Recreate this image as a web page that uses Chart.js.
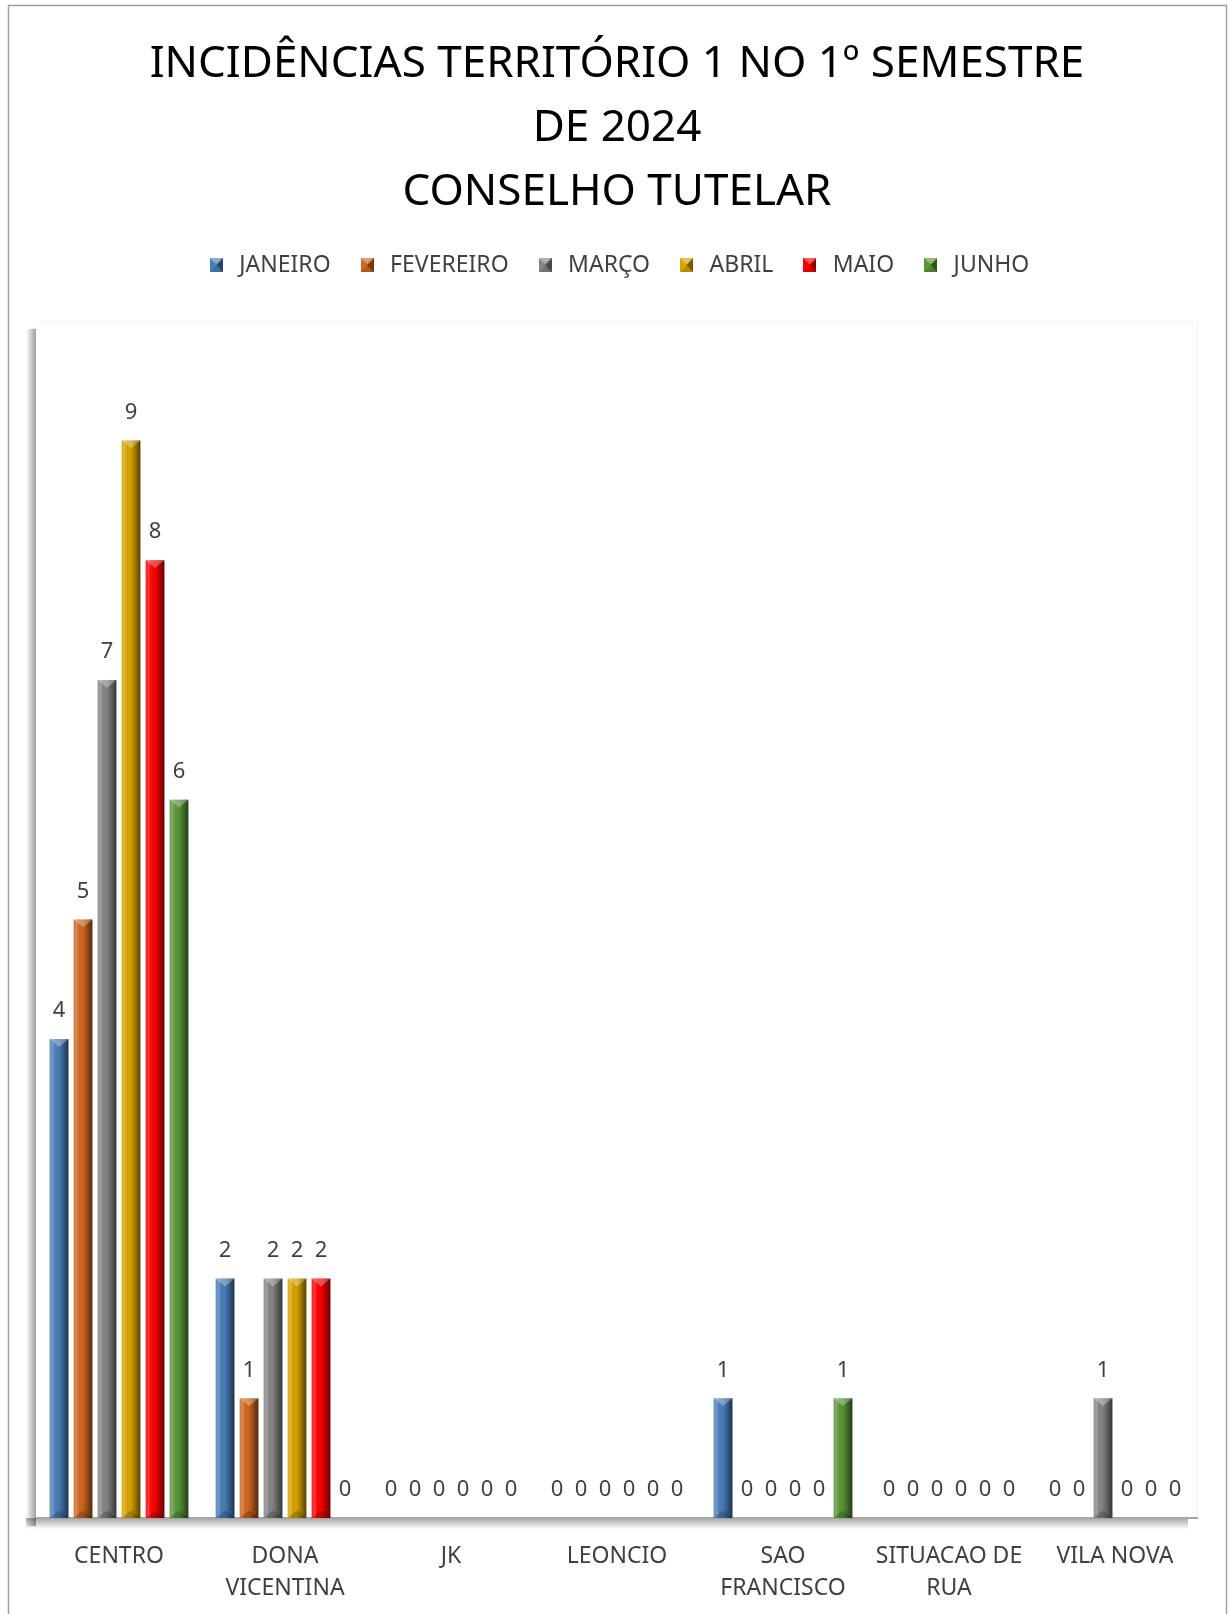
<!DOCTYPE html>
<html>
<head>
<meta charset="utf-8">
<script src="https://cdn.jsdelivr.net/npm/chart.js@4.4.1/dist/chart.umd.min.js"></script>
<style>
  html, body { margin: 0; padding: 0; background: #fff; }
  canvas { display: block; }
</style>
</head>
<body>
<canvas id="c" width="1229" height="1614"></canvas>
<script>
// territorios (rotulos em linhas)
const categories = [['CENTRO'], ['DONA', 'VICENTINA'], ['JK'], ['LEONCIO'], ['SAO', 'FRANCISCO'], ['SITUACAO DE', 'RUA'], ['VILA NOVA']]
const months = ['JANEIRO', 'FEVEREIRO', 'MARÇO', 'ABRIL', 'MAIO', 'JUNHO']

const janeiro = [4, 2, 0, 0, 1, 0, 0]
const fevereiro = [5, 1, 0, 0, 0, 0, 0]
const marco = [7, 2, 0, 0, 0, 0, 1]
const abril = [9, 2, 0, 0, 0, 0, 0]
const maio = [8, 2, 0, 0, 0, 0, 0]
const junho = [6, 0, 0, 0, 1, 0, 0]

const series = [janeiro, fevereiro, marco, abril, maio, junho]
const colors = ['#4a7ebb', '#d0671f', '#858585', '#d9a300', '#ff0000', '#5a9636']

const FONT = "'Noto Sans', 'Open Sans', sans-serif"

// pequeno quadrado chanfrado para a legenda
const swatch = (color) => {
    const cv = document.createElement('canvas')
    cv.width = 13; cv.height = 14
    const g = cv.getContext('2d')
    g.fillStyle = color
    g.fillRect(0, 0, 13, 14)
    g.fillStyle = 'rgba(255,255,255,0.35)'
    g.beginPath(); g.moveTo(0, 0); g.lineTo(13, 0); g.lineTo(6.5, 6); g.closePath(); g.fill()
    g.fillStyle = 'rgba(0,0,0,0.45)'
    g.beginPath(); g.moveTo(13, 0); g.lineTo(13, 14); g.lineTo(6.5, 7); g.closePath(); g.fill()
    g.fillStyle = 'rgba(0,0,0,0.15)'
    g.beginPath(); g.moveTo(0, 14); g.lineTo(13, 14); g.lineTo(6.5, 8); g.closePath(); g.fill()
    return cv
}
const swatches = colors.map(swatch)

// espaco extra entre legenda e area do grafico
const legendGap = {
    id: 'legendGap',
    afterInit(chart) {
        const fit = chart.legend.fit
        chart.legend.fit = function () {
            fit.bind(chart.legend)()
            this.height += 34
        }
    }
}

const frame = {
    id: 'frame',
    beforeDraw(chart) {
        const ctx = chart.ctx
        const a = chart.chartArea
        ctx.save()
        // moldura externa
        ctx.strokeStyle = '#a0a0a0'
        ctx.lineWidth = 1.5
        ctx.strokeRect(8.5, 5.5, 1218, 1700)
        // sombra esquerda
        let g = ctx.createLinearGradient(a.left - 10, 0, a.left, 0)
        g.addColorStop(0, 'rgba(0,0,0,0)')
        g.addColorStop(1, 'rgba(0,0,0,0.38)')
        ctx.fillStyle = g
        ctx.fillRect(a.left - 10, a.top + 8, 10, a.bottom - a.top)
        // sombra inferior
        g = ctx.createLinearGradient(0, a.bottom, 0, a.bottom + 11)
        g.addColorStop(0, 'rgba(0,0,0,0.35)')
        g.addColorStop(1, 'rgba(0,0,0,0)')
        ctx.fillStyle = g
        ctx.fillRect(a.left - 10, a.bottom, a.right - a.left, 11)
        // borda leve do plot
        ctx.strokeStyle = '#f2f2f2'
        ctx.lineWidth = 1
        ctx.beginPath()
        ctx.moveTo(a.left, a.top + 0.5); ctx.lineTo(a.right - 0.5, a.top + 0.5); ctx.lineTo(a.right - 0.5, a.bottom)
        ctx.stroke()
        // eixo
        ctx.strokeStyle = '#a6a6a6'
        ctx.lineWidth = 2
        ctx.beginPath()
        ctx.moveTo(a.left, a.bottom); ctx.lineTo(a.right, a.bottom)
        ctx.stroke()
        ctx.restore()
    }
}

const bevel = {
    id: 'bevel',
    afterDatasetsDraw(chart) {
        const ctx = chart.ctx
        ctx.save()
        chart.data.datasets.forEach((ds, i) => {
            const meta = chart.getDatasetMeta(i)
            meta.data.forEach((bar, j) => {
                const w = bar.width, x0 = bar.x - w / 2, x1 = bar.x + w / 2
                const top = bar.y, bot = bar.base
                if (bot - top > 1) {
                    const g = ctx.createLinearGradient(x0, 0, x1, 0)
                    g.addColorStop(0, 'rgba(255,255,255,0.10)')
                    g.addColorStop(0.15, 'rgba(255,255,255,0.22)')
                    g.addColorStop(0.45, 'rgba(0,0,0,0)')
                    g.addColorStop(0.7, 'rgba(0,0,0,0.25)')
                    g.addColorStop(1, 'rgba(0,0,0,0.6)')
                    ctx.fillStyle = g
                    ctx.fillRect(x0, top, w, bot - top)
                    ctx.fillStyle = 'rgba(255,255,255,0.3)'
                    ctx.beginPath(); ctx.moveTo(x0, top); ctx.lineTo(x1, top); ctx.lineTo(bar.x, top + w / 2.4); ctx.closePath(); ctx.fill()
                    ctx.fillStyle = 'rgba(0,0,0,0.2)'
                    ctx.beginPath(); ctx.moveTo(x0, bot); ctx.lineTo(x1, bot); ctx.lineTo(bar.x, bot - w / 2.4); ctx.closePath(); ctx.fill()
                }
                // rotulo do valor
                ctx.fillStyle = '#404040'
                ctx.font = '22px ' + FONT
                ctx.textAlign = 'center'
                ctx.textBaseline = 'middle'
                ctx.fillText(String(ds.data[j]), bar.x, top - 28)
            })
        })
        ctx.restore()
    }
}

new Chart(document.getElementById('c').getContext('2d'), {
    type: 'bar',
    data: {
        labels: categories,
        datasets: months.map((m, i) => ({
            label: m,
            data: series[i],
            backgroundColor: colors[i],
            barPercentage: 0.78,
            categoryPercentage: 0.867
        }))
    },
    options: {
        responsive: false,
        animation: false,
        devicePixelRatio: 1,
        layout: { padding: { left: 36, right: 31, top: 0, bottom: 10 } },
        plugins: {
            title: {
                display: true,
                text: ['INCIDÊNCIAS TERRITÓRIO 1 NO 1º SEMESTRE', 'DE 2024', 'CONSELHO TUTELAR'],
                color: '#000',
                font: { family: FONT, size: 44, weight: 'normal', lineHeight: 1.46 },
                padding: { top: 32, bottom: 4 }
            },
            legend: {
                position: 'top',
                labels: {
                    usePointStyle: true,
                    pointStyle: 'rect',
                    color: '#404040',
                    font: { family: FONT, size: 23 },
                    padding: 25,
                    generateLabels: (chart) => months.map((m, i) => ({
                        text: m,
                        pointStyle: swatches[i],
                        fillStyle: colors[i],
                        strokeStyle: colors[i],
                        lineWidth: 0,
                        fontColor: '#404040',
                        datasetIndex: i
                    }))
                }
            },
            tooltip: { enabled: false }
        },
        scales: {
            x: {
                grid: { display: false, drawTicks: false },
                border: { display: false },
                ticks: {
                    color: '#404040',
                    font: { family: FONT, size: 23, lineHeight: 1.39 },
                    padding: 22,
                    maxRotation: 0,
                    autoSkip: false
                },
                afterFit: (scale) => { scale.height -= 22 }
            },
            y: {
                display: false,
                min: 0,
                max: 10
            }
        }
    },
    plugins: [legendGap, frame, bevel]
})
</script>
</body>
</html>
